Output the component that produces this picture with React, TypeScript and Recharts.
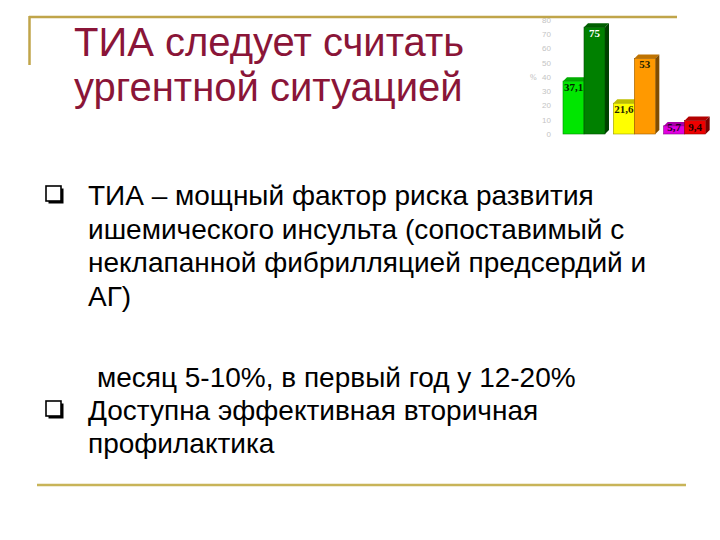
import React from 'react';
import { BarChart, Bar, XAxis, YAxis, Cell, LabelList } from 'recharts';

const groups = ['A', 'B', 'C'];
const seriesA = [37.1, 21.6, 5.7];
const seriesB = [75, 53, 9.4];
const yTicks = [0, 10, 20, 30, 40, 50, 60, 70, 80];
const colorsA = ['#00e600', '#ffff00', '#e000e0'];
const colorsB = ['#008000', '#ff9900', '#ee0000'];
const labelColorsA = ['#002200', '#222200', '#220022'];
const labelColorsB = ['#ffffff', '#222200', '#220000'];

const titleLines = ['ТИА следует считать', 'ургентной ситуацией'];
const bodyLines = [
  'ТИА – мощный фактор риска развития',
  'ишемического инсульта (сопоставимый с',
  'неклапанной фибрилляцией предсердий и',
  'АГ)',
];
const bodyLines2 = ['месяц 5-10%, в первый год у 12-20%'];
const bodyLines3 = ['Доступна эффективная вторичная', 'профилактика'];

const data = groups.map((g, i) => ({ g, a: seriesA[i], b: seriesB[i] }));

function shade(hex: string, f: number) {
  const n = parseInt(hex.slice(1), 16);
  const r = Math.round(((n >> 16) & 255) * f);
  const g = Math.round(((n >> 8) & 255) * f);
  const b = Math.round((n & 255) * f);
  return `rgb(${r},${g},${b})`;
}

const Bar3D = (props: any) => {
  const { x, y, width, height, fill } = props;
  const d = 4;
  return (
    <g>
      <polygon
        points={`${x},${y} ${x + d},${y - d} ${x + width + d},${y - d} ${x + width},${y}`}
        fill={shade(fill, 0.75)}
      />
      <polygon
        points={`${x + width},${y} ${x + width + d},${y - d} ${x + width + d},${y + height - d} ${x + width},${y + height}`}
        fill={shade(fill, 0.5)}
      />
      <rect x={x} y={y} width={width} height={height} fill={fill} stroke={shade(fill, 0.6)} strokeWidth={0.6} />
    </g>
  );
};

const makeLabel = (colors: string[]) => (props: any) => {
  const { x, y, width, height, value, index } = props;
  const base = Math.min(y + 10, y + height - 3);
  return (
    <text
      x={x + width / 2}
      y={base}
      textAnchor="middle"
      fontFamily="'Liberation Serif', 'DejaVu Serif', serif"
      fontWeight="bold"
      fontSize={11}
      fill={colors[index]}
    >
      {String(value).replace('.', ',')}
    </text>
  );
};

const Bullet = ({ x, y }: { x: number; y: number }) => (
  <g>
    <rect x={x + 2.5} y={y + 2.5} width={15} height={15} fill="#000" />
    <rect x={x} y={y} width={15} height={15} fill="#fff" stroke="#000" strokeWidth={1.6} />
  </g>
);

export default function App() {
  const sans = "'Liberation Sans', Arial, sans-serif";
  return (
    <div style={{ position: 'absolute', left: 0, top: 0, width: 720, height: 540, background: '#fff' }}>
      <div style={{ position: 'absolute', left: 510, top: 10 }}>
        <BarChart
          width={205}
          height={130}
          data={data}
          margin={{ top: 10, right: 5, bottom: 6, left: 0 }}
          barCategoryGap={4}
          barGap={0}
        >
          <XAxis dataKey="g" hide />
          <YAxis
            width={49}
            domain={[0, 80]}
            ticks={yTicks}
            axisLine={false}
            tickLine={false}
            tick={{ fontSize: 8, fill: '#c4c4c4', fontFamily: sans }}
            label={{ value: '%', position: 'insideLeft', offset: 20, fontSize: 8, fill: '#bbbbbb' }}
          />
          <Bar dataKey="a" isAnimationActive={false} shape={Bar3D}>
            {data.map((_, i) => (
              <Cell key={i} fill={colorsA[i]} />
            ))}
            <LabelList dataKey="a" content={makeLabel(labelColorsA)} />
          </Bar>
          <Bar dataKey="b" isAnimationActive={false} shape={Bar3D}>
            {data.map((_, i) => (
              <Cell key={i} fill={colorsB[i]} />
            ))}
            <LabelList dataKey="b" content={makeLabel(labelColorsB)} />
          </Bar>
        </BarChart>
      </div>
      <svg width={720} height={540} style={{ position: 'absolute', left: 0, top: 0, pointerEvents: 'none' }}>
        <line x1={29} y1={17} x2={677} y2={17} stroke="#c0a54a" strokeWidth={2.5} />
        <line x1={29.5} y1={16} x2={29.5} y2={65} stroke="#c0a54a" strokeWidth={2.5} />
        <line x1={37} y1={485} x2={686} y2={485} stroke="#c8b458" strokeWidth={2.5} />
        {titleLines.map((t, i) => (
          <text key={i} x={74} y={56 + i * 45} fontFamily={sans} fontSize={40} fill="#8a1538">
            {t}
          </text>
        ))}
        <Bullet x={46} y={186} />
        {bodyLines.map((t, i) => (
          <text key={i} x={88} y={205 + i * 33.5} fontFamily={sans} fontSize={28} fill="#000">
            {t}
          </text>
        ))}
        {bodyLines2.map((t, i) => (
          <text key={i} x={97} y={387} fontFamily={sans} fontSize={28} fill="#000">
            {t}
          </text>
        ))}
        <Bullet x={46} y={401} />
        {bodyLines3.map((t, i) => (
          <text key={i} x={88} y={420 + i * 33} fontFamily={sans} fontSize={28} fill="#000">
            {t}
          </text>
        ))}
      </svg>
    </div>
  );
}
